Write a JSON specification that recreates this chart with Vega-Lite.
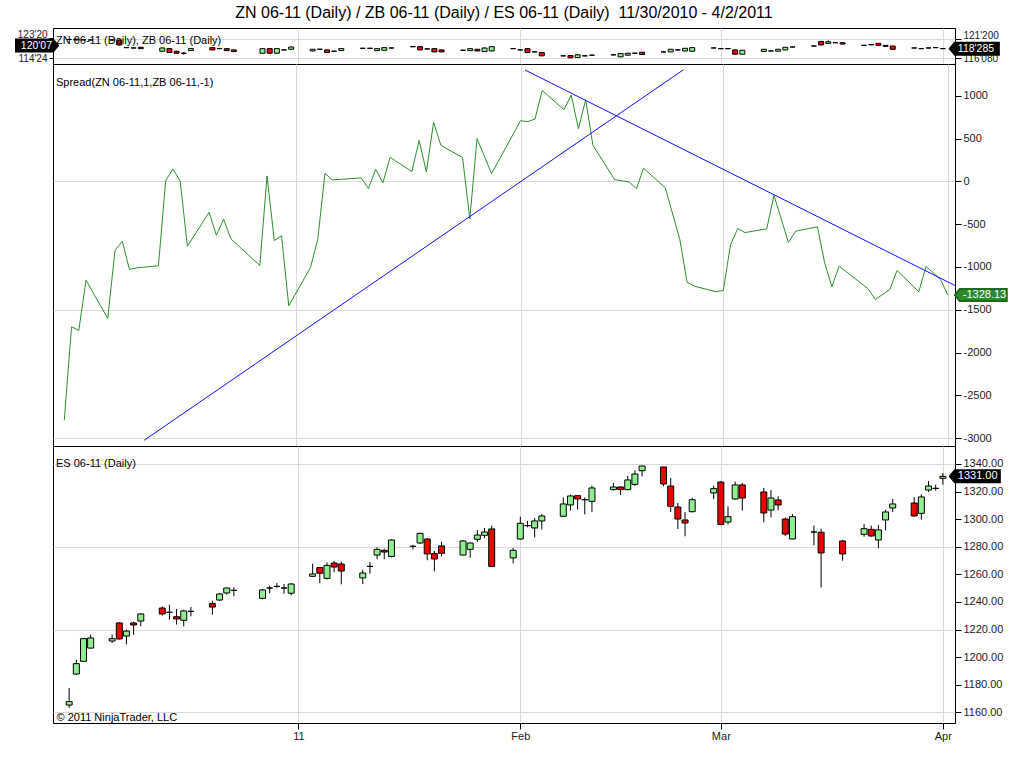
{
  "$schema": "https://vega.github.io/schema/vega-lite/v6.json",
  "background": "white",
  "padding": {"left": 11, "top": 4, "right": 0, "bottom": 0},
  "bounds": "flush",
  "spacing": 0,
  "title": {
    "text": "ZN 06-11 (Daily) / ZB 06-11 (Daily) / ES 06-11 (Daily)\u00a0 11/30/2010 - 4/2/2011",
    "fontSize": 16, "fontWeight": "normal", "color": "black", "anchor": "middle", "frame": "group", "offset": 7
  },
  "config": {
    "font": "Liberation Sans",
    "locale": {"number": {"decimal": ".", "thousands": ",", "grouping": [3], "currency": ["$", ""], "minus": "-"}},
    "view": {"stroke": "black", "strokeWidth": 1},
    "title": {"font": "Liberation Sans", "fontSize": 11, "fontWeight": "normal", "color": "black"},
    "axis": {
      "labelFont": "Liberation Sans", "labelFontSize": 11, "labelColor": "#1a1a1a",
      "domain": false, "tickColor": "black", "tickSize": 6, "labelPadding": 2,
      "gridColor": "#dadada", "labelFlush": false, "labelOverlap": false, "title": null
    }
  },
  "datasets": {
    "es": [
      {"d": "2010-11-30", "o": 1165.3, "h": 1177.6, "l": 1163.2, "c": 1167.8},
      {"d": "2010-12-01", "o": 1187.8, "h": 1198.2, "l": 1187.3, "c": 1195.3},
      {"d": "2010-12-02", "o": 1197.0, "h": 1213.9, "l": 1196.5, "c": 1213.4},
      {"d": "2010-12-03", "o": 1206.6, "h": 1216.3, "l": 1206.1, "c": 1213.9},
      {"d": "2010-12-06", "o": 1211.7, "h": 1216.3, "l": 1210.3, "c": 1213.4},
      {"d": "2010-12-07", "o": 1224.8, "h": 1225.2, "l": 1212.7, "c": 1213.2},
      {"d": "2010-12-08", "o": 1215.3, "h": 1219.9, "l": 1209.3, "c": 1218.9},
      {"d": "2010-12-09", "o": 1224.8, "h": 1225.7, "l": 1216.3, "c": 1223.3},
      {"d": "2010-12-10", "o": 1226.2, "h": 1231.8, "l": 1222.3, "c": 1231.3},
      {"d": "2010-12-13", "o": 1235.6, "h": 1236.8, "l": 1230.1, "c": 1231.3},
      {"d": "2010-12-14", "o": 1232.5, "h": 1238.0, "l": 1227.2, "c": 1232.5},
      {"d": "2010-12-15", "o": 1229.3, "h": 1234.9, "l": 1223.6, "c": 1227.7},
      {"d": "2010-12-16", "o": 1226.7, "h": 1234.4, "l": 1222.3, "c": 1233.5},
      {"d": "2010-12-17", "o": 1233.2, "h": 1236.3, "l": 1229.6, "c": 1233.2},
      {"d": "2010-12-20", "o": 1238.8, "h": 1240.9, "l": 1230.8, "c": 1236.3},
      {"d": "2010-12-21", "o": 1241.4, "h": 1246.5, "l": 1240.7, "c": 1245.8},
      {"d": "2010-12-22", "o": 1246.5, "h": 1250.6, "l": 1245.3, "c": 1250.1},
      {"d": "2010-12-23", "o": 1248.4, "h": 1250.8, "l": 1244.1, "c": 1248.4},
      {"d": "2010-12-27", "o": 1242.6, "h": 1249.4, "l": 1241.9, "c": 1248.7},
      {"d": "2010-12-28", "o": 1250.1, "h": 1251.8, "l": 1246.2, "c": 1250.1},
      {"d": "2010-12-29", "o": 1251.3, "h": 1253.7, "l": 1249.9, "c": 1251.3},
      {"d": "2010-12-30", "o": 1250.1, "h": 1253.0, "l": 1246.0, "c": 1250.1},
      {"d": "2010-12-31", "o": 1246.3, "h": 1253.7, "l": 1244.6, "c": 1253.0},
      {"d": "2011-01-03", "o": 1258.6, "h": 1267.7, "l": 1258.1, "c": 1260.3},
      {"d": "2011-01-04", "o": 1264.9, "h": 1265.1, "l": 1253.7, "c": 1260.8},
      {"d": "2011-01-05", "o": 1257.1, "h": 1268.7, "l": 1256.2, "c": 1266.5},
      {"d": "2011-01-06", "o": 1268.2, "h": 1269.7, "l": 1261.5, "c": 1265.3},
      {"d": "2011-01-07", "o": 1267.5, "h": 1269.2, "l": 1252.8, "c": 1262.4},
      {"d": "2011-01-10", "o": 1257.4, "h": 1263.4, "l": 1253.0, "c": 1261.0},
      {"d": "2011-01-11", "o": 1265.8, "h": 1268.9, "l": 1260.5, "c": 1265.8},
      {"d": "2011-01-12", "o": 1274.0, "h": 1279.6, "l": 1270.9, "c": 1278.1},
      {"d": "2011-01-13", "o": 1277.4, "h": 1278.6, "l": 1271.1, "c": 1276.2},
      {"d": "2011-01-14", "o": 1273.0, "h": 1285.4, "l": 1272.3, "c": 1284.9},
      {"d": "2011-01-17", "o": 1280.3, "h": 1281.5, "l": 1278.1, "c": 1280.3},
      {"d": "2011-01-18", "o": 1282.7, "h": 1290.2, "l": 1282.0, "c": 1289.7},
      {"d": "2011-01-19", "o": 1285.6, "h": 1286.3, "l": 1270.2, "c": 1274.8},
      {"d": "2011-01-20", "o": 1275.0, "h": 1276.9, "l": 1262.2, "c": 1271.1},
      {"d": "2011-01-21", "o": 1280.6, "h": 1283.5, "l": 1273.0, "c": 1275.2},
      {"d": "2011-01-24", "o": 1274.0, "h": 1284.9, "l": 1273.6, "c": 1284.2},
      {"d": "2011-01-25", "o": 1278.1, "h": 1283.2, "l": 1272.1, "c": 1282.7},
      {"d": "2011-01-26", "o": 1285.4, "h": 1292.1, "l": 1283.5, "c": 1288.5},
      {"d": "2011-01-27", "o": 1288.3, "h": 1293.6, "l": 1286.3, "c": 1290.7},
      {"d": "2011-01-28", "o": 1292.9, "h": 1295.3, "l": 1265.8, "c": 1265.8},
      {"d": "2011-01-31", "o": 1271.9, "h": 1279.1, "l": 1268.0, "c": 1277.4},
      {"d": "2011-02-01", "o": 1285.6, "h": 1301.8, "l": 1285.1, "c": 1297.0},
      {"d": "2011-02-02", "o": 1295.3, "h": 1298.7, "l": 1294.1, "c": 1295.3},
      {"d": "2011-02-03", "o": 1293.6, "h": 1300.8, "l": 1286.8, "c": 1298.7},
      {"d": "2011-02-04", "o": 1298.7, "h": 1303.7, "l": 1292.4, "c": 1302.3},
      {"d": "2011-02-07", "o": 1302.1, "h": 1315.8, "l": 1301.6, "c": 1311.0},
      {"d": "2011-02-08", "o": 1310.3, "h": 1317.8, "l": 1306.2, "c": 1316.8},
      {"d": "2011-02-09", "o": 1317.0, "h": 1317.5, "l": 1306.9, "c": 1314.6},
      {"d": "2011-02-10", "o": 1314.1, "h": 1315.8, "l": 1303.5, "c": 1314.1},
      {"d": "2011-02-11", "o": 1312.9, "h": 1324.3, "l": 1305.2, "c": 1322.6},
      {"d": "2011-02-14", "o": 1321.4, "h": 1326.2, "l": 1320.7, "c": 1323.3},
      {"d": "2011-02-15", "o": 1323.3, "h": 1323.8, "l": 1317.5, "c": 1321.4},
      {"d": "2011-02-16", "o": 1321.4, "h": 1331.3, "l": 1320.9, "c": 1328.4},
      {"d": "2011-02-17", "o": 1325.2, "h": 1335.4, "l": 1324.0, "c": 1332.7},
      {"d": "2011-02-18", "o": 1335.1, "h": 1338.8, "l": 1331.0, "c": 1338.5},
      {"d": "2011-02-21", "o": 1337.8, "h": 1337.8, "l": 1323.8, "c": 1325.5},
      {"d": "2011-02-22", "o": 1324.0, "h": 1329.8, "l": 1305.2, "c": 1309.3},
      {"d": "2011-02-23", "o": 1308.8, "h": 1311.7, "l": 1292.9, "c": 1300.1},
      {"d": "2011-02-24", "o": 1299.4, "h": 1305.2, "l": 1287.6, "c": 1297.2},
      {"d": "2011-02-25", "o": 1305.4, "h": 1315.6, "l": 1304.9, "c": 1314.1},
      {"d": "2011-02-28", "o": 1319.0, "h": 1324.3, "l": 1314.4, "c": 1322.1},
      {"d": "2011-03-01", "o": 1326.9, "h": 1327.7, "l": 1295.5, "c": 1296.2},
      {"d": "2011-03-02", "o": 1297.9, "h": 1309.3, "l": 1296.2, "c": 1301.8},
      {"d": "2011-03-03", "o": 1314.6, "h": 1327.2, "l": 1314.1, "c": 1324.8},
      {"d": "2011-03-04", "o": 1324.8, "h": 1326.2, "l": 1306.2, "c": 1315.3},
      {"d": "2011-03-07", "o": 1319.7, "h": 1322.6, "l": 1297.7, "c": 1304.5},
      {"d": "2011-03-08", "o": 1306.6, "h": 1321.1, "l": 1301.3, "c": 1315.3},
      {"d": "2011-03-09", "o": 1313.9, "h": 1316.5, "l": 1306.4, "c": 1310.3},
      {"d": "2011-03-10", "o": 1300.1, "h": 1301.1, "l": 1287.8, "c": 1289.2},
      {"d": "2011-03-11", "o": 1285.6, "h": 1303.7, "l": 1285.6, "c": 1301.8},
      {"d": "2011-03-14", "o": 1290.7, "h": 1295.3, "l": 1281.0, "c": 1290.7},
      {"d": "2011-03-15", "o": 1290.5, "h": 1293.1, "l": 1250.6, "c": 1275.5},
      {"d": "2011-03-18", "o": 1284.2, "h": 1284.9, "l": 1269.9, "c": 1274.8},
      {"d": "2011-03-21", "o": 1289.0, "h": 1296.5, "l": 1287.3, "c": 1293.1},
      {"d": "2011-03-22", "o": 1292.6, "h": 1295.3, "l": 1287.3, "c": 1287.8},
      {"d": "2011-03-23", "o": 1284.9, "h": 1295.8, "l": 1278.9, "c": 1292.2},
      {"d": "2011-03-24", "o": 1299.4, "h": 1306.9, "l": 1291.9, "c": 1305.2},
      {"d": "2011-03-25", "o": 1308.1, "h": 1314.6, "l": 1305.2, "c": 1311.0},
      {"d": "2011-03-28", "o": 1311.7, "h": 1315.8, "l": 1301.8, "c": 1302.3},
      {"d": "2011-03-29", "o": 1304.2, "h": 1318.0, "l": 1299.6, "c": 1316.1},
      {"d": "2011-03-30", "o": 1321.1, "h": 1327.7, "l": 1319.7, "c": 1324.0},
      {"d": "2011-03-31", "o": 1322.3, "h": 1325.0, "l": 1320.6, "c": 1322.3},
      {"d": "2011-04-01", "o": 1329.6, "h": 1333.4, "l": 1325.0, "c": 1331.0}
    ],
    "zn": [
      {"d": "2010-11-30", "o": 121.45, "h": 121.6, "l": 121.3, "c": 121.45},
      {"d": "2010-12-01", "o": 121.55, "h": 121.65, "l": 121.2, "c": 121.3},
      {"d": "2010-12-02", "o": 121.35, "h": 121.5, "l": 121.25, "c": 121.35},
      {"d": "2010-12-03", "o": 121.3, "h": 121.4, "l": 121.2, "c": 121.3},
      {"d": "2010-12-06", "o": 121.3, "h": 121.45, "l": 121.2, "c": 121.3},
      {"d": "2010-12-07", "o": 121.27, "h": 121.4, "l": 119.8, "c": 119.9},
      {"d": "2010-12-08", "o": 119.17, "h": 119.3, "l": 119.05, "c": 119.17},
      {"d": "2010-12-09", "o": 119.07, "h": 119.2, "l": 118.95, "c": 119.07},
      {"d": "2010-12-10", "o": 119.26, "h": 119.35, "l": 118.8, "c": 118.89},
      {"d": "2010-12-13", "o": 118.16, "h": 119.15, "l": 118.05, "c": 119.07},
      {"d": "2010-12-14", "o": 118.89, "h": 119.0, "l": 117.7, "c": 117.8},
      {"d": "2010-12-15", "o": 118.16, "h": 118.25, "l": 117.5, "c": 117.61},
      {"d": "2010-12-16", "o": 117.62, "h": 117.98, "l": 117.2, "c": 117.58},
      {"d": "2010-12-17", "o": 118.34, "h": 119.0, "l": 118.25, "c": 118.89},
      {"d": "2010-12-20", "o": 119.17, "h": 119.3, "l": 118.45, "c": 118.53},
      {"d": "2010-12-21", "o": 118.89, "h": 119.0, "l": 118.75, "c": 118.89},
      {"d": "2010-12-22", "o": 118.89, "h": 119.0, "l": 118.25, "c": 118.34},
      {"d": "2010-12-23", "o": 118.53, "h": 118.6, "l": 117.95, "c": 118.07},
      {"d": "2010-12-27", "o": 117.61, "h": 119.0, "l": 117.5, "c": 118.89},
      {"d": "2010-12-28", "o": 118.89, "h": 119.0, "l": 117.5, "c": 117.61},
      {"d": "2010-12-29", "o": 117.61, "h": 119.0, "l": 117.5, "c": 118.89},
      {"d": "2010-12-30", "o": 118.53, "h": 118.65, "l": 118.4, "c": 118.53},
      {"d": "2010-12-31", "o": 118.71, "h": 119.45, "l": 118.6, "c": 119.35},
      {"d": "2011-01-03", "o": 118.25, "h": 118.8, "l": 118.15, "c": 118.71},
      {"d": "2011-01-04", "o": 118.71, "h": 118.85, "l": 118.6, "c": 118.71},
      {"d": "2011-01-05", "o": 118.53, "h": 118.6, "l": 117.7, "c": 117.8},
      {"d": "2011-01-06", "o": 118.16, "h": 118.3, "l": 118.05, "c": 118.16},
      {"d": "2011-01-07", "o": 118.34, "h": 119.0, "l": 118.25, "c": 118.89},
      {"d": "2011-01-10", "o": 118.98, "h": 119.1, "l": 118.85, "c": 118.98},
      {"d": "2011-01-11", "o": 118.98, "h": 119.1, "l": 118.85, "c": 118.98},
      {"d": "2011-01-12", "o": 118.34, "h": 119.0, "l": 118.25, "c": 118.89},
      {"d": "2011-01-13", "o": 118.43, "h": 119.25, "l": 118.35, "c": 119.17},
      {"d": "2011-01-14", "o": 119.07, "h": 119.2, "l": 118.95, "c": 119.07},
      {"d": "2011-01-17", "o": 119.44, "h": 119.55, "l": 119.3, "c": 119.44},
      {"d": "2011-01-18", "o": 119.44, "h": 119.55, "l": 118.45, "c": 118.53},
      {"d": "2011-01-19", "o": 118.8, "h": 118.95, "l": 118.7, "c": 118.8},
      {"d": "2011-01-20", "o": 118.89, "h": 119.0, "l": 117.9, "c": 117.98},
      {"d": "2011-01-21", "o": 118.53, "h": 118.6, "l": 117.9, "c": 117.98},
      {"d": "2011-01-24", "o": 118.43, "h": 118.55, "l": 118.3, "c": 118.43},
      {"d": "2011-01-25", "o": 118.34, "h": 119.0, "l": 118.25, "c": 118.89},
      {"d": "2011-01-26", "o": 118.71, "h": 118.8, "l": 118.15, "c": 118.25},
      {"d": "2011-01-27", "o": 118.07, "h": 119.15, "l": 118.0, "c": 119.07},
      {"d": "2011-01-28", "o": 118.25, "h": 119.55, "l": 118.15, "c": 119.44},
      {"d": "2011-01-31", "o": 118.89, "h": 119.0, "l": 118.75, "c": 118.89},
      {"d": "2011-02-01", "o": 118.53, "h": 118.65, "l": 118.4, "c": 118.53},
      {"d": "2011-02-02", "o": 118.89, "h": 119.0, "l": 117.7, "c": 117.8},
      {"d": "2011-02-03", "o": 117.98, "h": 118.1, "l": 117.85, "c": 117.98},
      {"d": "2011-02-04", "o": 117.8, "h": 117.9, "l": 116.8, "c": 116.88},
      {"d": "2011-02-07", "o": 116.88, "h": 117.0, "l": 116.75, "c": 116.88},
      {"d": "2011-02-08", "o": 116.97, "h": 117.05, "l": 116.25, "c": 116.33},
      {"d": "2011-02-09", "o": 116.42, "h": 117.25, "l": 116.35, "c": 117.16},
      {"d": "2011-02-10", "o": 116.88, "h": 117.0, "l": 116.75, "c": 116.88},
      {"d": "2011-02-11", "o": 117.06, "h": 117.2, "l": 116.95, "c": 117.06},
      {"d": "2011-02-14", "o": 117.16, "h": 117.3, "l": 117.05, "c": 117.16},
      {"d": "2011-02-15", "o": 116.61, "h": 117.6, "l": 116.5, "c": 117.52},
      {"d": "2011-02-16", "o": 117.06, "h": 117.7, "l": 116.95, "c": 117.61},
      {"d": "2011-02-17", "o": 117.61, "h": 117.75, "l": 117.5, "c": 117.61},
      {"d": "2011-02-18", "o": 117.89, "h": 117.95, "l": 117.15, "c": 117.25},
      {"d": "2011-02-21", "o": 117.98, "h": 118.1, "l": 117.85, "c": 117.98},
      {"d": "2011-02-22", "o": 117.98, "h": 118.8, "l": 117.9, "c": 118.71},
      {"d": "2011-02-23", "o": 118.53, "h": 118.65, "l": 118.4, "c": 118.53},
      {"d": "2011-02-24", "o": 118.25, "h": 119.05, "l": 118.15, "c": 118.98},
      {"d": "2011-02-25", "o": 118.16, "h": 119.25, "l": 118.05, "c": 119.17},
      {"d": "2011-02-28", "o": 119.07, "h": 119.2, "l": 118.95, "c": 119.07},
      {"d": "2011-03-01", "o": 118.89, "h": 119.0, "l": 118.75, "c": 118.89},
      {"d": "2011-03-02", "o": 118.89, "h": 119.0, "l": 118.75, "c": 118.89},
      {"d": "2011-03-03", "o": 118.53, "h": 118.6, "l": 117.25, "c": 117.34},
      {"d": "2011-03-04", "o": 117.34, "h": 118.5, "l": 117.25, "c": 118.43},
      {"d": "2011-03-07", "o": 118.07, "h": 118.8, "l": 118.0, "c": 118.71},
      {"d": "2011-03-08", "o": 118.25, "h": 118.35, "l": 118.15, "c": 118.25},
      {"d": "2011-03-09", "o": 118.16, "h": 118.8, "l": 118.05, "c": 118.71},
      {"d": "2011-03-10", "o": 118.53, "h": 119.35, "l": 118.45, "c": 119.26},
      {"d": "2011-03-11", "o": 119.35, "h": 119.45, "l": 119.25, "c": 119.35},
      {"d": "2011-03-14", "o": 119.62, "h": 119.75, "l": 119.5, "c": 119.62},
      {"d": "2011-03-15", "o": 120.9, "h": 121.0, "l": 119.8, "c": 119.9},
      {"d": "2011-03-16", "o": 120.35, "h": 121.2, "l": 120.25, "c": 120.81},
      {"d": "2011-03-17", "o": 120.54, "h": 120.65, "l": 120.4, "c": 120.54},
      {"d": "2011-03-18", "o": 120.54, "h": 120.65, "l": 120.1, "c": 120.17},
      {"d": "2011-03-21", "o": 119.81, "h": 119.95, "l": 119.7, "c": 119.81},
      {"d": "2011-03-22", "o": 120.05, "h": 120.15, "l": 119.85, "c": 119.95},
      {"d": "2011-03-23", "o": 120.35, "h": 120.45, "l": 119.7, "c": 119.81},
      {"d": "2011-03-24", "o": 119.81, "h": 119.9, "l": 119.45, "c": 119.53},
      {"d": "2011-03-25", "o": 119.62, "h": 119.7, "l": 118.6, "c": 118.71},
      {"d": "2011-03-28", "o": 119.07, "h": 119.2, "l": 118.95, "c": 119.07},
      {"d": "2011-03-29", "o": 118.89, "h": 119.0, "l": 118.75, "c": 118.89},
      {"d": "2011-03-30", "o": 119.07, "h": 119.2, "l": 118.95, "c": 119.07},
      {"d": "2011-03-31", "o": 119.17, "h": 119.3, "l": 119.05, "c": 119.17},
      {"d": "2011-04-01", "o": 118.9, "h": 119.0, "l": 118.75, "c": 118.890625}
    ],
    "zb": [
      {"d": "2010-11-28T10:34:00Z", "c": 120.21875}
    ],
    "spread": [
      {"d": "2010-11-30", "v": -2790}, {"d": "2010-12-01", "v": -1698}, {"d": "2010-12-02", "v": -1740},
      {"d": "2010-12-03", "v": -1154}, {"d": "2010-12-06", "v": -1601}, {"d": "2010-12-07", "v": -808},
      {"d": "2010-12-08", "v": -699}, {"d": "2010-12-09", "v": -1029}, {"d": "2010-12-10", "v": -1010},
      {"d": "2010-12-13", "v": -986}, {"d": "2010-12-14", "v": 9}, {"d": "2010-12-15", "v": 145},
      {"d": "2010-12-16", "v": 5}, {"d": "2010-12-17", "v": -757}, {"d": "2010-12-20", "v": -361},
      {"d": "2010-12-21", "v": -629}, {"d": "2010-12-22", "v": -442}, {"d": "2010-12-23", "v": -671},
      {"d": "2010-12-27", "v": -983}, {"d": "2010-12-28", "v": 63}, {"d": "2010-12-29", "v": -691},
      {"d": "2010-12-30", "v": -636}, {"d": "2010-12-31", "v": -1453}, {"d": "2011-01-03", "v": -1006},
      {"d": "2011-01-04", "v": -679}, {"d": "2011-01-05", "v": 94}, {"d": "2011-01-06", "v": 17},
      {"d": "2011-01-10", "v": 40}, {"d": "2011-01-11", "v": -85}, {"d": "2011-01-12", "v": 141},
      {"d": "2011-01-13", "v": -18}, {"d": "2011-01-14", "v": 281}, {"d": "2011-01-17", "v": 114},
      {"d": "2011-01-18", "v": 479}, {"d": "2011-01-19", "v": 110}, {"d": "2011-01-20", "v": 689},
      {"d": "2011-01-21", "v": 421}, {"d": "2011-01-24", "v": 277}, {"d": "2011-01-25", "v": -438},
      {"d": "2011-01-26", "v": 499}, {"d": "2011-01-28", "v": 90}, {"d": "2011-02-01", "v": 708},
      {"d": "2011-02-02", "v": 697}, {"d": "2011-02-03", "v": 728}, {"d": "2011-02-04", "v": 1062},
      {"d": "2011-02-07", "v": 837}, {"d": "2011-02-08", "v": 1008}, {"d": "2011-02-09", "v": 615},
      {"d": "2011-02-10", "v": 953}, {"d": "2011-02-11", "v": 421}, {"d": "2011-02-14", "v": 20},
      {"d": "2011-02-16", "v": -7}, {"d": "2011-02-17", "v": -85}, {"d": "2011-02-18", "v": 152},
      {"d": "2011-02-21", "v": -77}, {"d": "2011-02-23", "v": -679}, {"d": "2011-02-24", "v": -1177},
      {"d": "2011-02-25", "v": -1224}, {"d": "2011-02-28", "v": -1289}, {"d": "2011-03-01", "v": -1274},
      {"d": "2011-03-02", "v": -741}, {"d": "2011-03-03", "v": -551}, {"d": "2011-03-04", "v": -598},
      {"d": "2011-03-07", "v": -555}, {"d": "2011-03-08", "v": -163}, {"d": "2011-03-10", "v": -714},
      {"d": "2011-03-11", "v": -582}, {"d": "2011-03-14", "v": -531}, {"d": "2011-03-15", "v": -951},
      {"d": "2011-03-16", "v": -1231}, {"d": "2011-03-17", "v": -990}, {"d": "2011-03-21", "v": -1254},
      {"d": "2011-03-22", "v": -1379}, {"d": "2011-03-24", "v": -1262}, {"d": "2011-03-25", "v": -1041},
      {"d": "2011-03-28", "v": -1289}, {"d": "2011-03-29", "v": -994}, {"d": "2011-03-31", "v": -1146},
      {"d": "2011-04-01", "v": -1328.13}
    ],
    "trend": [
      {"d1": "2010-12-11T01:00:00Z", "v1": -3023, "d2": "2011-02-23T12:00:00Z", "v2": 1303},
      {"d1": "2011-02-01T15:00:00Z", "v1": 1300, "d2": "2011-04-02T00:00:00Z", "v2": -1216}
    ]
  },
  "vconcat": [
    {
      "width": 902,
      "height": 36,
      "title": {"text": "ZN 06-11 (Daily), ZB 06-11 (Daily)", "anchor": "start", "frame": "group", "baseline": "alphabetic", "offset": -27, "dx": 3},
      "layer": [
        {
          "data": {"name": "zn"},
          "encoding": {
            "x": {
              "field": "d", "type": "temporal",
              "scale": {"type": "utc", "domain": [{"year": 2010, "month": 11, "date": 28, "hours": 10, "minutes": 34, "utc": true}, {"year": 2011, "month": 4, "date": 2, "utc": true}]},
              "axis": {"values": [{"year": 2011, "month": 1, "date": 1, "utc": true}, {"year": 2011, "month": 2, "date": 1, "utc": true}, {"year": 2011, "month": 3, "date": 1, "utc": true}, {"year": 2011, "month": 4, "date": 1, "utc": true}], "labels": false, "ticks": false, "grid": true}
            }
          },
          "layer": [
            {
              "mark": {"type": "rule", "color": "black", "strokeWidth": 1},
              "encoding": {
                "y": {
                  "field": "l", "type": "quantitative",
                  "scale": {"domain": [114.605, 124.641], "nice": false, "zero": false},
                  "axis": {"orient": "right", "values": [116.25, 121.625], "grid": true, "labelFontSize": 10, "labelOverlap": false,
                    "labelBaseline": {"condition": {"test": "datum.value > 120", "value": "alphabetic"}, "value": "middle"},
                    "labelExpr": "floor(datum.value) + \"'\" + format(round((datum.value - floor(datum.value)) * 320), '03d')"}
                },
                "y2": {"field": "h"}
              }
            },
            {
              "mark": {"type": "bar", "size": 5, "stroke": "black", "strokeWidth": 1},
              "encoding": {
                "y": {"field": "o", "type": "quantitative"},
                "y2": {"field": "c"},
                "fill": {"condition": {"test": "datum.c >= datum.o", "value": "#90ee90"}, "value": "#ee0000"}
              }
            },
            {
              "transform": [{"filter": {"field": "d", "equal": {"year": 2011, "month": 4, "date": 1, "utc": true}}}],
              "mark": {"type": "point", "shape": "M 7 0 L 12 -6 L 56 -6 L 56 6 L 12 6 Z", "size": 4, "filled": true, "fill": "black", "stroke": "black", "opacity": 1},
              "encoding": {"y": {"field": "c", "type": "quantitative"}}
            },
            {
              "transform": [{"filter": {"field": "d", "equal": {"year": 2011, "month": 4, "date": 1, "utc": true}}}],
              "mark": {"type": "text", "align": "left", "baseline": "middle", "dx": 15, "color": "white", "fontSize": 10.5},
              "encoding": {"y": {"field": "c", "type": "quantitative"}, "text": {"value": "118'285"}}
            }
          ]
        },
        {
          "data": {"name": "zb"},
          "encoding": {
            "x": {"field": "d", "type": "temporal"},
            "y": {
              "field": "c", "type": "quantitative",
              "scale": {"domain": [112.3, 127.77], "nice": false, "zero": false},
              "axis": {"orient": "left", "values": [114.75, 123.625], "tickSize": 4, "grid": false, "labelFontSize": 10, "labelOverlap": false,
                "labelBaseline": {"condition": {"test": "datum.value > 120", "value": "alphabetic"}, "value": "middle"},
                "labelExpr": "floor(datum.value) + \"'\" + format(round((datum.value - floor(datum.value)) * 32), '02d')"}
            }
          },
          "layer": [
            {
              "mark": {"type": "point", "shape": "M 0 0 L -5 -6 L -42 -6 L -42 6 L -5 6 Z", "size": 4, "filled": true, "fill": "black", "stroke": "black", "opacity": 1}
            },
            {
              "mark": {"type": "text", "align": "right", "baseline": "middle", "dx": -6, "color": "white", "fontSize": 10.5},
              "encoding": {"text": {"value": "120'07"}}
            }
          ]
        }
      ],
      "resolve": {"scale": {"y": "independent"}, "axis": {"y": "independent"}}
    },
    {
      "width": 902,
      "height": 382,
      "title": {"text": "Spread(ZN 06-11,1,ZB 06-11,-1)", "anchor": "start", "frame": "group", "baseline": "alphabetic", "offset": -33, "dx": 3},
      "layer": [
        {
          "data": {"name": "spread"},
          "mark": {"type": "line", "color": "#2e8f2e", "strokeWidth": 1},
          "encoding": {
            "x": {
              "field": "d", "type": "temporal",
              "scale": {"type": "utc", "domain": [{"year": 2010, "month": 11, "date": 28, "hours": 10, "minutes": 34, "utc": true}, {"year": 2011, "month": 4, "date": 2, "utc": true}]},
              "axis": {"values": [{"year": 2011, "month": 1, "date": 1, "utc": true}, {"year": 2011, "month": 2, "date": 1, "utc": true}, {"year": 2011, "month": 3, "date": 1, "utc": true}, {"year": 2011, "month": 4, "date": 1, "utc": true}], "labels": false, "ticks": false, "grid": true}
            },
            "y": {
              "field": "v", "type": "quantitative",
              "scale": {"domain": [-3090, 1370], "nice": false, "zero": false},
              "axis": {"orient": "right", "values": [-3000, -2500, -2000, -1500, -1000, -500, 0, 500, 1000], "format": "d", "grid": true, "labelOverlap": false, "tickCount": 12,
                "gridOpacity": {"condition": {"test": "datum.value % 1500 === 0", "value": 1}, "value": 0}}
            }
          }
        },
        {
          "data": {"name": "trend"},
          "mark": {"type": "rule", "color": "#1010ee", "strokeWidth": 1},
          "encoding": {
            "x": {"field": "d1", "type": "temporal"},
            "x2": {"field": "d2"},
            "y": {"field": "v1", "type": "quantitative"},
            "y2": {"field": "v2"}
          }
        },
        {
          "data": {"name": "spread"},
          "transform": [{"filter": {"field": "d", "equal": {"year": 2011, "month": 4, "date": 1, "utc": true}}}],
          "mark": {"type": "point", "shape": "M 7 0 L 12 -6 L 59 -6 L 59 6 L 12 6 Z", "size": 4, "filled": true, "fill": "#2a8a2a", "stroke": "#1d6b1d", "opacity": 1},
          "encoding": {"x": {"field": "d", "type": "temporal"}, "y": {"field": "v", "type": "quantitative"}}
        },
        {
          "data": {"name": "spread"},
          "transform": [{"filter": {"field": "d", "equal": {"year": 2011, "month": 4, "date": 1, "utc": true}}}],
          "mark": {"type": "text", "align": "left", "baseline": "middle", "dx": 15, "color": "white", "fontSize": 11},
          "encoding": {"x": {"field": "d", "type": "temporal"}, "y": {"field": "v", "type": "quantitative"}, "text": {"field": "v", "type": "quantitative", "format": ".2f"}}
        }
      ]
    },
    {
      "width": 902,
      "height": 277,
      "title": {"text": "ES 06-11 (Daily)", "anchor": "start", "frame": "group", "baseline": "alphabetic", "offset": -32, "dx": 3},
      "data": {"name": "es"},
      "encoding": {
        "x": {
          "field": "d", "type": "temporal",
          "scale": {"type": "utc", "domain": [{"year": 2010, "month": 11, "date": 28, "hours": 10, "minutes": 34, "utc": true}, {"year": 2011, "month": 4, "date": 2, "utc": true}]},
          "axis": {
            "values": [{"year": 2011, "month": 1, "date": 1, "utc": true}, {"year": 2011, "month": 2, "date": 1, "utc": true}, {"year": 2011, "month": 3, "date": 1, "utc": true}, {"year": 2011, "month": 4, "date": 1, "utc": true}],
            "grid": true, "tickSize": 6, "labelPadding": 1, "labelOverlap": false,
            "labelExpr": "utcmonth(datum.value) === 0 ? utcFormat(datum.value, '%y') : utcFormat(datum.value, '%b')",
            "title": "© 2011 NinjaTrader, LLC", "titleX": 3, "titleY": -3, "titleAlign": "left", "titleAnchor": "start",
            "titleBaseline": "alphabetic", "titleFontSize": 11, "titleFontWeight": "normal", "titleColor": "black"
          }
        }
      },
      "layer": [
        {
          "mark": {"type": "rule", "color": "black", "strokeWidth": 1},
          "encoding": {
            "y": {
              "field": "l", "type": "quantitative",
              "scale": {"domain": [1152.3, 1353], "nice": false, "zero": false},
              "axis": {"orient": "right", "values": [1160, 1180, 1200, 1220, 1240, 1260, 1280, 1300, 1320, 1340], "format": ".2f", "grid": true,
                "labelOverlap": false, "tickCount": 12,
                "gridOpacity": {"condition": {"test": "(datum.value - 1160) % 60 === 0", "value": 1}, "value": 0}}
            },
            "y2": {"field": "h"}
          }
        },
        {
          "mark": {"type": "bar", "size": 6, "stroke": "black", "strokeWidth": 1},
          "encoding": {
            "y": {"field": "o", "type": "quantitative"},
            "y2": {"field": "c"},
            "fill": {"condition": {"test": "datum.c >= datum.o", "value": "#90ee90"}, "value": "#ee0000"}
          }
        },
        {
          "transform": [{"filter": {"field": "d", "equal": {"year": 2011, "month": 4, "date": 1, "utc": true}}}],
          "mark": {"type": "point", "shape": "M 7 0 L 12 -6 L 57 -6 L 57 6 L 12 6 Z", "size": 4, "filled": true, "fill": "black", "stroke": "black", "opacity": 1},
          "encoding": {"y": {"field": "c", "type": "quantitative"}}
        },
        {
          "transform": [{"filter": {"field": "d", "equal": {"year": 2011, "month": 4, "date": 1, "utc": true}}}],
          "mark": {"type": "text", "align": "left", "baseline": "middle", "dx": 15, "color": "white", "fontSize": 11},
          "encoding": {"y": {"field": "c", "type": "quantitative"}, "text": {"field": "c", "type": "quantitative", "format": ".2f"}}
        }
      ]
    }
  ]
}
